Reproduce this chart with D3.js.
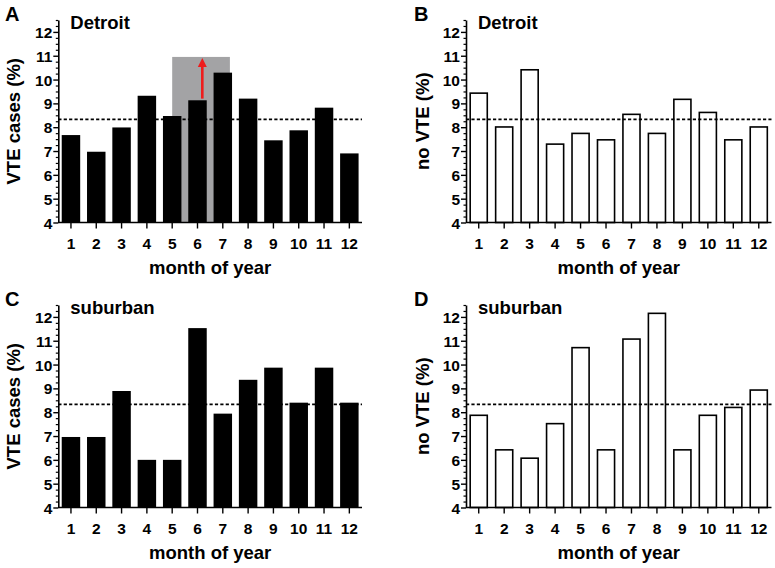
<!DOCTYPE html>
<html><head><meta charset="utf-8">
<script src="https://cdn.jsdelivr.net/npm/d3@7"></script>
<style>
html,body{margin:0;padding:0;background:#fff;}
svg text{font-family:"Liberation Sans",Arial,sans-serif;font-weight:bold;fill:#000;}
</style></head>
<body><svg id="chart" width="775" height="568"></svg>
<script>
// ---- data ----
const months = [1,2,3,4,5,6,7,8,9,10,11,12];
const detroitVTE     = [7.67, 6.97, 7.99, 9.32, 8.47, 9.13, 10.29, 9.20, 7.45, 7.87, 8.82, 6.90];
const detroitNoVTE   = [9.43, 8.01, 10.41, 7.29, 7.74, 7.47, 8.54, 7.74, 9.17, 8.62, 7.47, 8.01];
const suburbanVTE    = [6.96, 6.96, 8.89, 6.00, 6.00, 11.53, 7.94, 9.36, 9.87, 8.40, 9.87, 8.40];
const suburbanNoVTE  = [7.87, 6.42, 6.07, 7.52, 10.71, 6.42, 11.07, 12.15, 6.42, 7.87, 8.20, 8.93];
const yTickValues = [4,5,6,7,8,9,10,11,12];
const yDomain = [4, 12.5];
const meanLine = 8.33;            // 100/12 %
const highlightMonths = [5, 7.28]; // grey box in panel A (month units)
const highlightTop = 10.95;
const arrowMonth = 6.19, arrowFrom = 9.2, arrowTo = 10.9;
const panelLetters = ["A","B","C","D"];
const panelTitles = ["Detroit","Detroit","suburban","suburban"];
const yTitles = ["VTE cases (%)","no VTE (%)","VTE cases (%)","no VTE (%)"];
const xTitle = "month of year";

// ---- layout ----
const panels = [
  {values: detroitVTE,    filled: true,  x0: 58.3,  x1: 362,   dy: 0,   lx: 5,   ytx: 20,    highlight: true},
  {values: detroitNoVTE,  filled: false, x0: 466,   x1: 771.5, dy: 0,   lx: 414, ytx: 428.5},
  {values: suburbanVTE,   filled: true,  x0: 58.3,  x1: 362,   dy: 285, lx: 5,   ytx: 20},
  {values: suburbanNoVTE, filled: false, x0: 466,   x1: 771.5, dy: 285, lx: 414, ytx: 428.5}
];
const svg = d3.select("#chart");

panels.forEach((p, i) => {
  const yTop = 20 + p.dy, yBot = 222.5 + p.dy;
  const y = d3.scaleLinear().domain(yDomain).range([yBot, yTop]);
  const x = d3.scaleBand().domain(months).range([p.x0, p.x1]).paddingInner(0.27).paddingOuter(0.135);
  const xm = d3.scaleLinear().domain([0.5, 12.5]).range([p.x0, p.x1]);
  const g = svg.append("g");

  if (p.highlight) {
    g.append("rect")
      .attr("x", xm(highlightMonths[0])).attr("width", xm(highlightMonths[1]) - xm(highlightMonths[0]))
      .attr("y", y(highlightTop)).attr("height", y(yDomain[0]) - y(highlightTop))
      .attr("fill", "#a3a3a5");
  }

  g.selectAll("rect.bar").data(p.values).join("rect").attr("class","bar")
    .attr("x", (d, k) => x(months[k]) + (p.filled ? 0 : 0.75))
    .attr("width", x.bandwidth() - (p.filled ? 0 : 1.5))
    .attr("y", d => y(d))
    .attr("height", d => y(yDomain[0]) - y(d))
    .attr("fill", p.filled ? "#000" : "#fff")
    .attr("stroke", "#000")
    .attr("stroke-width", p.filled ? 0 : 1.6);

  if (p.highlight) {
    const ax = xm(arrowMonth);
    g.append("line").attr("x1", ax).attr("x2", ax)
      .attr("y1", y(arrowFrom)).attr("y2", y(arrowTo) + 8)
      .attr("stroke", "#ee1c1c").attr("stroke-width", 2.6);
    g.append("path")
      .attr("d", `M${ax-4.5},${y(arrowTo)+9} L${ax},${y(arrowTo)} L${ax+4.5},${y(arrowTo)+9} Z`)
      .attr("fill", "#ee1c1c");
  }

  // mean dashed line
  g.append("line").attr("x1", p.x0).attr("x2", p.x1)
    .attr("y1", y(meanLine)).attr("y2", y(meanLine))
    .attr("stroke", "#000").attr("stroke-width", 1.7).attr("stroke-dasharray", "3.2,2.2");

  // minor y ticks
  const minor = d3.range(4.25, 12.51, 0.25).filter(v => Math.abs(v - Math.round(v)) > 1e-6);
  g.append("g").attr("transform", `translate(${p.x0},0)`)
    .call(d3.axisLeft(y).tickValues(minor).tickSize(2.5).tickSizeOuter(0).tickFormat(""))
    .call(a => a.select(".domain").remove())
    .call(a => a.selectAll("line").attr("stroke-width", 1.2));

  // y axis
  const ya = g.append("g").attr("transform", `translate(${p.x0},0)`)
    .call(d3.axisLeft(y).tickValues(yTickValues).tickSize(5).tickSizeOuter(0).tickPadding(1));
  ya.select(".domain").attr("stroke-width", 1.6);
  ya.selectAll(".tick line").attr("stroke-width", 1.4);
  ya.selectAll("text").style("font-size", "15.5px").attr("dy", "0.36em");

  // x axis
  const xa = g.append("g").attr("transform", `translate(0,${yBot})`)
    .call(d3.axisBottom(x).tickSize(6).tickSizeOuter(0).tickPadding(9));
  xa.select(".domain").attr("stroke-width", 1.6).attr("d", `M${p.x0},0H${p.x1}`);
  xa.selectAll(".tick line").attr("stroke-width", 1.4);
  xa.selectAll("text").style("font-size", "15.5px");

  // titles
  g.append("text").attr("x", (p.x0 + p.x1) / 2).attr("y", yBot + 51.5)
    .attr("text-anchor", "middle").style("font-size", "18.5px").text(xTitle);
  g.append("text").attr("transform", `translate(${p.ytx},${(yTop + yBot) / 2}) rotate(-90)`)
    .attr("text-anchor", "middle").style("font-size", "18.5px").text(yTitles[i]);
  g.append("text").attr("x", p.x0 + 12).attr("y", 29.3 + p.dy)
    .style("font-size", "18.5px").text(panelTitles[i]);
  g.append("text").attr("x", p.lx).attr("y", 20.5 + p.dy)
    .style("font-size", "20px").text(panelLetters[i]);
});
</script></body></html>
